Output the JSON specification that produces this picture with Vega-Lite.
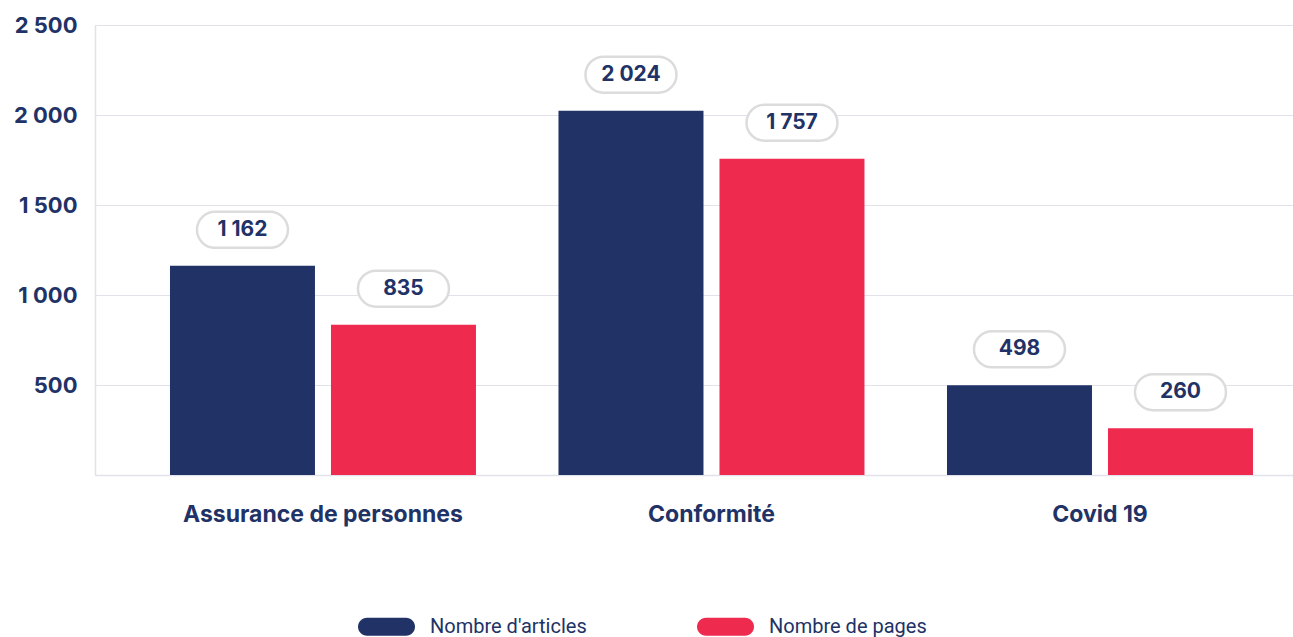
{
  "$schema": "https://vega.github.io/schema/vega-lite/v6.json",
  "width": 1198,
  "height": 450,
  "autosize": {"type": "none"},
  "padding": {"left": 95, "top": 25, "right": 0, "bottom": 162},
  "background": "white",
  "config": {
    "locale": {
      "number": {"decimal": ",", "thousands": " ", "grouping": [3], "currency": ["", " €"]}
    }
  },
  "data": {
    "values": [
      {"categorie": "Assurance de personnes", "serie": "Nombre d'articles", "valeur": 1162},
      {"categorie": "Assurance de personnes", "serie": "Nombre de pages", "valeur": 835},
      {"categorie": "Conformité", "serie": "Nombre d'articles", "valeur": 2024},
      {"categorie": "Conformité", "serie": "Nombre de pages", "valeur": 1757},
      {"categorie": "Covid 19", "serie": "Nombre d'articles", "valeur": 498},
      {"categorie": "Covid 19", "serie": "Nombre de pages", "valeur": 260}
    ]
  },
  "encoding": {
    "x": {
      "field": "categorie",
      "type": "nominal",
      "sort": null,
      "title": null,
      "scale": {"paddingInner": 0.2124, "paddingOuter": 0.148, "align": 0.652},
      "axis": {
        "labelAngle": 0,
        "ticks": false,
        "domainColor": "#e2e2ea",
        "domainWidth": 1.5,
        "labelFont": "Inter",
        "labelFontWeight": "bold",
        "labelFontSize": 23,
        "labelColor": "#213266",
        "labelPadding": 28,
        "labelBaseline": "top",
        "labelLimit": 0
      }
    },
    "xOffset": {
      "field": "serie",
      "type": "nominal",
      "sort": ["Nombre d'articles", "Nombre de pages"],
      "scale": {"paddingInner": 0.0994, "paddingOuter": 0}
    },
    "y": {
      "field": "valeur",
      "type": "quantitative",
      "title": null,
      "scale": {"domain": [0, 2500], "nice": false},
      "axis": {
        "values": [500, 1000, 1500, 2000, 2500],
        "format": ",d",
        "ticks": false,
        "domain": true,
        "domainColor": "#e2e2ea",
        "domainWidth": 1.5,
        "gridColor": "#e2e2ea",
        "gridWidth": 1.2,
        "labelFont": "Inter",
        "labelFontWeight": "bold",
        "labelFontSize": 22,
        "labelColor": "#213266",
        "labelPadding": 18
      }
    }
  },
  "layer": [
    {
      "mark": {"type": "bar"},
      "encoding": {
        "color": {
          "field": "serie",
          "type": "nominal",
          "sort": ["Nombre d'articles", "Nombre de pages"],
          "scale": {"range": ["#213266", "#ee2a4e"]},
          "legend": {
            "title": null,
            "orient": "none",
            "direction": "horizontal",
            "legendX": 263,
            "legendY": 573,
            "symbolType": "M-0.684,-0.316 L0.684,-0.316 A0.316,0.316 0 0 1 0.684,0.316 L-0.684,0.316 A0.316,0.316 0 0 1 -0.684,-0.316 Z",
            "symbolSize": 3249,
            "symbolStrokeWidth": 0,
            "labelFont": "Roboto",
            "labelFontSize": 20,
            "labelColor": "#213266",
            "labelOffset": 15,
            "labelLimit": 0,
            "columnPadding": 110
          }
        }
      }
    },
    {
      "mark": {
        "type": "bar",
        "width": 91,
        "cornerRadius": 18,
        "fill": "white",
        "stroke": "#dcdcdc",
        "strokeWidth": 2.5,
        "yOffset": -54,
        "y2Offset": -18
      },
      "encoding": {
        "y2": {"field": "valeur"}
      }
    },
    {
      "mark": {
        "type": "text",
        "font": "Inter",
        "fontWeight": "bold",
        "fontSize": 21,
        "color": "#213266",
        "baseline": "middle",
        "align": "center",
        "yOffset": -36
      },
      "encoding": {
        "text": {"field": "valeur", "type": "quantitative", "format": ","}
      }
    }
  ]
}
